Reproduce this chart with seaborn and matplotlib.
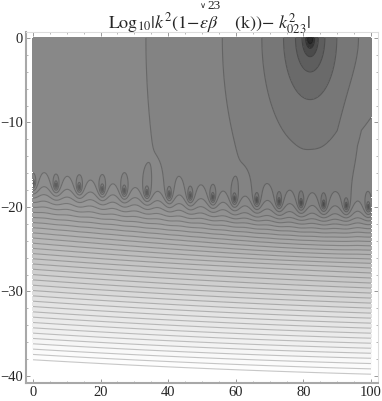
import numpy as np
import matplotlib
matplotlib.use("Agg")
import matplotlib.pyplot as plt
import seaborn as sns

# zeros of the function along the ripple
pole_k = [0, 6.8, 13.7, 20.5, 27, 33.7, 40.3, 46.5, 53.2, 59.6, 66.2, 72.8, 79.3, 86, 92.7, 99.2]
pole_y = [-17.3, -17.3, -17.6, -17.9, -18.1, -18.4, -18.7, -18.7, -18.7, -19.0, -19.3, -19.4, -19.4, -19.6, -19.9, -20.1]
# the big zero at the top edge
top_k = 82.0
top_y = 0.0
top_radius = 47  # widest contour half width at y=0
level_step = 0.63
x_ticks = [0, 20, 40, 60, 80, 100]
y_ticks = [0, -10, -20, -30, -40]
shades = ["#2a2a2a", "#5c5c5c", "#7a7a7a", "#868686", "#8b8b8b", "#999999", "#c0c0c0", "#e2e2e2", "#ffffff"]
shade_at = [-5.0, -3.5, -2.0, -0.5, 0.2, 2.0, 8.0, 14.0, 21.0]

sns.set_style("white")
plt.rcParams["font.family"] = ["Liberation Serif", "DejaVu Serif"]
plt.rcParams["mathtext.fontset"] = "stix"

rate = 2 * np.pi / 6.65
k = np.linspace(0, 100, 1400)
y = np.linspace(-40, 0, 1200)
K, Y = np.meshgrid(k, y)


def top_factor(kk, yy):
    dk = kk - top_k
    dy = yy - top_y
    # right flank of the outer ellipses pulls in faster than the left one
    pull = np.minimum(0.067 * dy**2, 8) * np.clip((dk - 8) / 6, 0, 1)
    r = np.hypot(dk + pull, 1.08 * dy)
    sat = top_radius / np.exp(-0.55 * rate)
    return r / (r**4 + sat**4) ** 0.25


anchors_k = [pole_k[0] - 6.65] + pole_k + [pole_k[-1] + 6.65]
anchors_phase = [(2 * i - 1) * np.pi for i in range(len(anchors_k))]
phase = np.interp(K, anchors_k, anchors_phase)
# smooth trend through the zeros, kinks would show up in the lower contours
trend = np.polyval(np.polyfit(pole_k, pole_y, 2), K)
# keep the zeros where they were read, but only close to the ripple
fade = np.clip((Y + 27) / 6, 0, 1)
ridge = trend + fade * np.log(top_factor(K, trend)) / rate
# lower contours run a bit flatter than the ripple itself
ridge = ridge + K / 100 * 1.1 * np.clip((-20 - Y) / 18, 0, 1)
T = top_factor(K, Y)
u = np.exp(-rate * (Y - ridge) + 1j * phase)
Z = np.log(np.abs(T + u) + 1e-9) / rate

levels = 0.08 + level_step * np.arange(-8, 34)
fill_levels = np.concatenate([[-30], levels, [40]])

mids = (fill_levels[:-1] + fill_levels[1:]) / 2
mids[-1] = shade_at[-1]
cmap = sns.blend_palette(shades, n_colors=256, as_cmap=True)
pos = np.interp(mids, shade_at, np.linspace(0, 1, len(shade_at)))
fill_colors = [cmap(p) for p in pos]
# contour lines are a darker version of the band they sit on
line_colors = [tuple(0.78 * c for c in cmap(p)[:3]) for p in np.interp(levels, shade_at, np.linspace(0, 1, len(shade_at)))]

fig = plt.figure(figsize=(3.82, 4.01), dpi=100)
ax = fig.add_axes([26 / 382, 1 - 383 / 401, 352 / 382, 351 / 401])

ax.contourf(K, Y, Z, levels=fill_levels, colors=fill_colors)
ax.contour(K, Y, Z, levels=levels, colors=line_colors, linewidths=0.8, linestyles="solid")

ax.set_xlim(-2.07, 102.07)
ax.set_ylim(-40.83, 0.7)
ax.set_xticks(x_ticks)
ax.set_yticks(y_ticks)
ax.set_xticks(np.arange(0, 101, 5), minor=True)
ax.set_yticks(np.arange(-40, 1, 2), minor=True)
ax.tick_params(which="major", direction="in", length=3, width=0.6, color="#888888",
               labelsize=10.5, pad=2, top=True, right=True, bottom=True, left=True)
ax.tick_params(which="minor", direction="in", length=1.5, width=0.5, color="#999999",
               top=True, right=True, bottom=True, left=True)
for name, sp in ax.spines.items():
    sp.set_color("#a8a8a8" if name in ("left", "bottom") else "#dddddd")
    sp.set_linewidth(1.5 if name in ("left", "bottom") else 0.8)

fig.text(108 / 382, 1 - 29 / 401,
         r"$\mathrm{Log}_{10}|k^2(1\!-\!\varepsilon\beta\ \ \ \ \mathrm{(k)})\!-\,k^2_{023}|$",
         fontsize=13, ha="left", va="baseline")
fig.text(214 / 382, 1 - 6 / 401, "23", fontsize=9.5, ha="center", va="center")
fig.text(203 / 382, 1 - 6 / 401, "\u2228", fontsize=6, ha="center", va="center", family="DejaVu Sans")

fig.savefig("out.png", dpi=100)
